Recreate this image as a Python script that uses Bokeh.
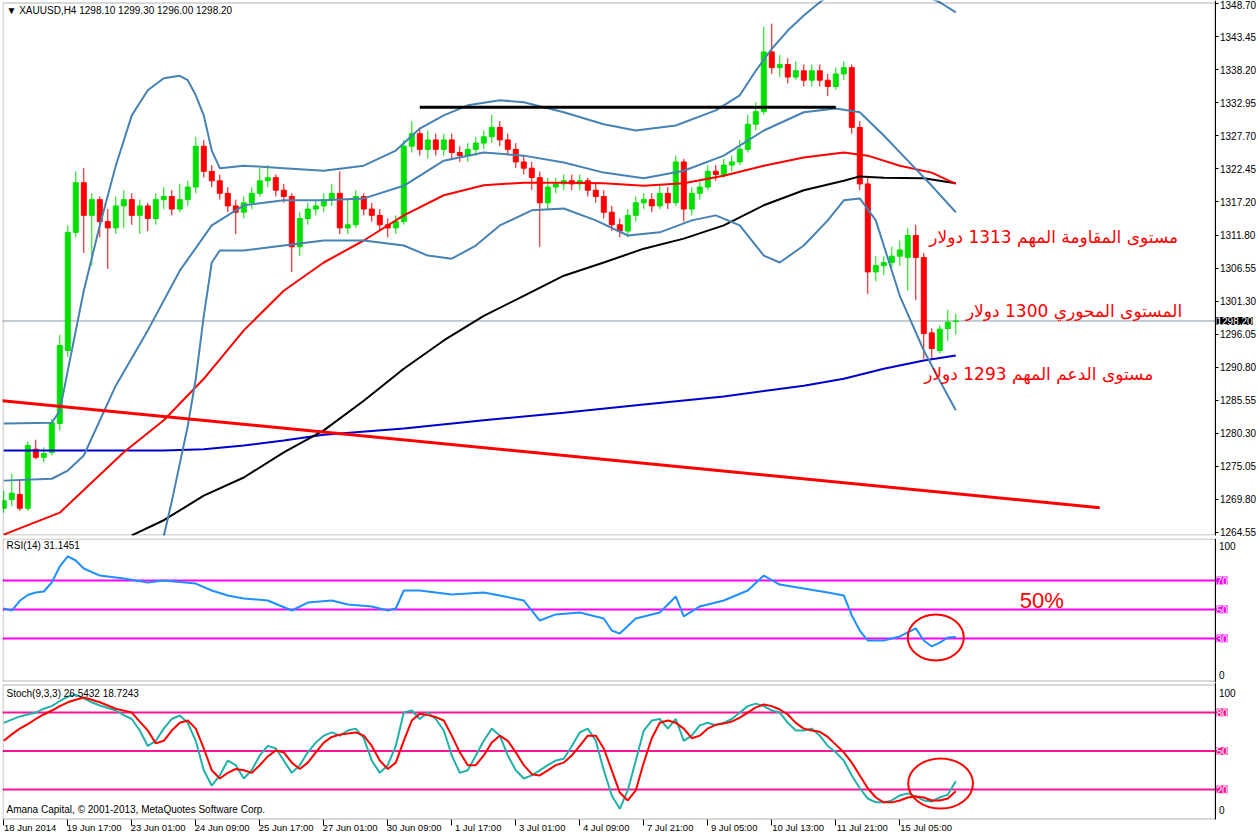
from bokeh.plotting import figure
from bokeh.layouts import column
from bokeh.models import (Range1d, FixedTicker, Label, PrintfTickFormatter, ColumnDataSource, LinearAxis,
                          BoxAnnotation)
from bokeh.embed import file_html
from bokeh.resources import INLINE

# ---------------- data ----------------
ohlc = [
    (1268.4, 1271.2, 1267.7, 1269.6), (1269.8, 1273.9, 1268.7, 1270.8), (1270.6, 1273.0, 1268.0, 1268.4),
    (1268.4, 1279.0, 1268.0, 1278.4), (1277.8, 1279.3, 1276.2, 1276.5), (1276.5, 1278.1, 1275.7, 1277.1),
    (1277.3, 1282.6, 1276.8, 1282.0), (1281.9, 1296.0, 1280.8, 1294.3), (1293.5, 1313.4, 1292.5, 1312.3),
    (1312.3, 1322.0, 1311.5, 1320.2), (1320.2, 1322.5, 1309.0, 1315.0), (1315.0, 1318.5, 1307.0, 1317.5),
    (1317.5, 1318.0, 1311.5, 1314.0), (1314.0, 1316.0, 1306.5, 1313.0), (1313.0, 1318.0, 1312.0, 1316.5),
    (1316.5, 1319.0, 1313.0, 1317.5), (1317.5, 1318.5, 1313.5, 1315.0), (1315.0, 1317.5, 1312.0, 1316.5),
    (1316.5, 1317.0, 1312.5, 1314.5), (1314.5, 1318.5, 1313.5, 1317.5), (1317.5, 1319.5, 1316.0, 1318.0),
    (1318.0, 1319.0, 1315.0, 1316.0), (1316.0, 1320.0, 1315.5, 1317.5), (1317.5, 1320.5, 1316.5, 1319.5),
    (1319.5, 1327.5, 1318.5, 1326.0), (1326.0, 1327.0, 1321.0, 1322.0), (1322.0, 1323.0, 1319.5, 1320.5),
    (1320.5, 1321.5, 1317.5, 1318.5), (1318.5, 1319.5, 1315.5, 1316.5), (1316.5, 1317.5, 1312.0, 1315.5),
    (1315.5, 1318.0, 1314.5, 1317.0), (1317.0, 1319.5, 1316.0, 1318.5), (1318.5, 1322.5, 1318.0, 1320.5),
    (1320.5, 1323.0, 1319.5, 1321.0), (1321.0, 1321.5, 1318.0, 1319.0), (1319.0, 1320.0, 1317.0, 1318.0),
    (1318.0, 1318.5, 1306.0, 1310.0), (1310.0, 1315.5, 1308.5, 1314.5), (1314.5, 1317.0, 1313.5, 1316.0),
    (1316.0, 1317.5, 1315.0, 1316.5), (1316.5, 1318.5, 1315.5, 1317.5), (1317.5, 1320.0, 1316.5, 1318.5),
    (1318.5, 1322.0, 1312.0, 1313.0), (1313.0, 1317.5, 1312.0, 1313.5), (1313.5, 1319.0, 1313.0, 1318.0),
    (1318.0, 1318.5, 1315.0, 1316.0), (1316.0, 1317.0, 1314.0, 1315.0), (1315.0, 1316.0, 1312.5, 1313.5),
    (1313.5, 1314.5, 1311.5, 1313.0), (1313.0, 1315.0, 1312.0, 1314.0), (1314.0, 1327.0, 1313.5, 1326.0),
    (1326.0, 1330.0, 1325.0, 1328.0), (1328.0, 1329.0, 1324.5, 1325.5), (1325.5, 1328.5, 1324.0, 1327.0),
    (1327.0, 1328.0, 1324.5, 1325.5), (1325.5, 1328.0, 1324.5, 1327.0), (1327.0, 1328.0, 1324.0, 1325.0),
    (1325.0, 1326.0, 1323.5, 1324.5), (1324.5, 1326.5, 1323.5, 1325.5), (1325.5, 1327.5, 1324.5, 1326.5),
    (1326.5, 1328.5, 1325.5, 1327.5), (1327.5, 1331.0, 1326.5, 1329.0), (1329.0, 1330.0, 1326.0, 1327.0),
    (1327.0, 1328.0, 1324.5, 1325.5), (1325.5, 1326.5, 1322.5, 1323.5), (1323.5, 1324.5, 1321.5, 1322.5),
    (1322.5, 1323.5, 1319.0, 1321.0), (1321.0, 1322.0, 1310.0, 1317.0), (1317.0, 1321.0, 1316.0, 1319.5),
    (1319.5, 1321.0, 1318.5, 1320.0), (1320.0, 1321.5, 1319.0, 1320.5), (1320.5, 1321.5, 1319.0, 1320.0),
    (1320.0, 1321.5, 1319.0, 1320.5), (1320.5, 1321.0, 1318.0, 1319.0), (1319.0, 1320.0, 1317.0, 1318.0),
    (1318.0, 1319.0, 1314.5, 1315.5), (1315.5, 1316.5, 1312.5, 1313.5), (1313.5, 1314.5, 1311.5, 1312.5),
    (1312.5, 1316.0, 1311.5, 1315.0), (1315.0, 1318.0, 1314.0, 1317.0), (1317.0, 1318.5, 1316.0, 1317.5),
    (1317.5, 1318.5, 1315.5, 1316.5), (1316.5, 1320.0, 1316.0, 1318.5), (1318.5, 1319.5, 1316.0, 1317.0),
    (1317.0, 1324.5, 1316.5, 1323.5), (1323.5, 1324.0, 1314.0, 1316.0), (1316.0, 1319.5, 1315.0, 1318.5),
    (1318.5, 1320.5, 1317.5, 1319.5), (1319.5, 1323.0, 1319.0, 1322.0), (1322.0, 1323.0, 1320.5, 1321.5),
    (1321.5, 1324.0, 1321.0, 1323.0), (1323.0, 1324.5, 1322.0, 1323.5), (1323.5, 1327.0, 1323.0, 1325.5),
    (1325.5, 1331.0, 1325.0, 1329.5), (1329.5, 1333.0, 1328.5, 1331.5), (1331.5, 1345.0, 1331.0, 1341.0),
    (1341.0, 1345.5, 1337.5, 1338.5), (1338.5, 1340.5, 1337.0, 1339.0), (1339.0, 1340.0, 1336.0, 1337.0),
    (1337.0, 1339.5, 1336.5, 1338.0), (1338.0, 1339.0, 1335.5, 1336.5), (1336.5, 1339.0, 1335.5, 1338.0),
    (1338.0, 1339.0, 1335.5, 1336.5), (1336.5, 1337.5, 1334.0, 1335.5), (1335.5, 1338.5, 1335.0, 1337.5),
    (1337.5, 1339.5, 1336.5, 1338.5), (1338.5, 1339.0, 1328.0, 1329.0), (1329.0, 1330.0, 1319.0, 1320.0),
    (1320.0, 1321.0, 1302.5, 1306.0), (1306.0, 1308.5, 1304.5, 1307.0), (1307.0, 1308.5, 1305.5, 1307.5),
    (1307.5, 1310.0, 1306.5, 1308.5), (1308.5, 1311.0, 1307.0, 1309.5), (1308.3, 1313.0, 1303.0, 1311.8),
    (1311.8, 1313.5, 1301.5, 1308.3), (1308.3, 1309.0, 1292.2, 1296.2), (1296.3, 1297.0, 1292.2, 1293.8),
    (1293.5, 1297.5, 1293.0, 1296.9), (1297.0, 1300.0, 1295.0, 1298.0), (1298.1, 1299.3, 1296.0, 1298.2),
]

# Bollinger bands (bar index, price)
bb_up_x = [0, 6, 7, 8, 10, 12, 14, 16, 18, 20, 22, 23, 24, 25, 26, 27, 30, 35, 40, 45, 49, 52, 55, 58, 62, 65, 70,
           75, 79, 84, 89, 92, 94, 96, 98, 100, 102, 104, 110, 115, 117, 119]
bb_up_y = [1281.9, 1282.0, 1283.9, 1290.3, 1303.0, 1313.4, 1322.9, 1330.9, 1334.9, 1336.8, 1337.2, 1336.5, 1334.1,
           1330.9, 1325.3, 1322.5, 1322.9, 1322.5, 1322.1, 1322.9, 1325.3, 1328.8, 1330.9, 1332.5, 1333.3, 1333.0,
           1331.4, 1329.5, 1328.5, 1329.3, 1331.7, 1334.1, 1338.0, 1341.5, 1344.4, 1346.8, 1348.9, 1350.8, 1355.5,
           1350.0, 1348.9, 1347.3]
bb_mid_x = [0, 6, 8, 10, 14, 18, 22, 26, 30, 35, 40, 45, 50, 55, 60, 65, 70, 75, 80, 85, 90, 95, 100, 104, 107,
            110, 113, 116, 119]
bb_mid_y = [1272.8, 1273.1, 1274.4, 1276.8, 1287.9, 1296.7, 1306.2, 1313.4, 1316.6, 1317.4, 1317.4, 1317.7, 1319.7,
            1323.7, 1325.0, 1324.5, 1323.4, 1321.8, 1320.9, 1322.1, 1324.5, 1328.5, 1331.4, 1332.0, 1331.4, 1327.7,
            1323.7, 1319.7, 1315.5]
bb_low_x = [19, 20, 21, 22, 23, 24, 25, 26, 27, 30, 35, 40, 45, 50, 53, 56, 59, 62, 66, 70, 74, 78, 82, 86, 89, 92,
            95, 97, 100, 103, 105, 107, 109, 112, 115, 117, 119]
bb_low_y = [1261.5, 1264.0, 1269.5, 1275.5, 1281.5, 1289.0, 1299.0, 1307.5, 1309.4, 1309.4, 1310.2, 1311.0, 1311.0,
            1310.2, 1308.6, 1308.1, 1310.2, 1313.4, 1315.8, 1316.1, 1314.2, 1311.8, 1312.3, 1314.2, 1315.0, 1313.4,
            1308.6, 1307.5, 1310.2, 1314.2, 1317.4, 1317.7, 1314.2, 1302.2, 1293.5, 1288.7, 1284.0]

# moving averages (bar index, price)
ma_red_x = [0, 7, 15, 20, 25, 30, 35, 40, 45, 50, 55, 60, 65, 70, 75, 80, 85, 90, 95, 100, 105, 108, 112, 116, 119]
ma_red_y = [1264.2, 1267.7, 1277.3, 1282.4, 1289.0, 1296.7, 1303.0, 1307.5, 1311.0, 1315.0, 1318.2, 1319.8, 1320.2,
            1320.2, 1320.1, 1319.7, 1320.1, 1321.3, 1322.9, 1324.2, 1325.0, 1324.5, 1322.9, 1321.8, 1320.0]
ma_black_x = [16, 20, 25, 30, 35, 40, 45, 50, 55, 60, 65, 70, 75, 80, 85, 90, 95, 100, 105, 107, 110, 115, 119]
ma_black_y = [1264.1, 1266.5, 1270.4, 1273.3, 1277.3, 1280.8, 1285.5, 1290.6, 1295.1, 1299.0, 1302.2, 1305.4, 1307.5,
              1309.7, 1311.3, 1313.4, 1316.6, 1319.0, 1320.5, 1321.2, 1321.0, 1320.9, 1320.1]
ma_blue_x = [0, 20, 25, 30, 35, 40, 50, 60, 70, 80, 90, 100, 105, 110, 115, 119]
ma_blue_y = [1277.6, 1277.6, 1277.8, 1278.4, 1279.2, 1280.1, 1281.1, 1282.4, 1283.6, 1284.9, 1286.2, 1287.9, 1289.0,
             1290.6, 1291.9, 1292.7]

# drawn objects
trend_x = [-0.2, 137.0]
trend_y = [1285.5, 1268.5]
resist_x = [52.0, 104.0]
resist_y = [1332.2, 1332.2]
last_price = 1298.20

# RSI(14)
rsi_x = [0, 1, 2, 3, 4, 5, 6, 7, 8, 9, 10, 12, 15, 18, 20, 24, 26, 28, 30, 33, 36, 38, 41, 43, 46, 48, 49, 50, 52,
         56, 60, 62, 65, 67, 69, 72, 75, 76, 77, 79, 82, 84, 85, 87, 90, 93, 95, 97, 100, 103, 105, 106, 107, 108,
         110, 112, 114, 115, 116, 117, 118, 119]
rsi_v = [50.7, 49.3, 56.0, 60.0, 61.7, 62.4, 68.6, 79.7, 86.6, 83.8, 78.3, 73.4, 71.4, 68.6, 70.0, 67.9, 63.1, 59.7,
         57.6, 56.2, 49.3, 54.8, 56.2, 53.4, 52.1, 49.3, 50.7, 63.1, 63.1, 60.3, 61.7, 59.7, 56.2, 42.4, 46.6, 47.9,
         43.8, 35.5, 33.4, 43.8, 47.9, 59.0, 45.2, 52.1, 56.2, 63.1, 73.4, 67.2, 64.5, 61.7, 59.7, 45.9, 35.5, 28.6,
         28.6, 31.4, 37.0, 28.6, 24.5, 27.2, 30.7, 31.1]

# Stochastic(9,3,3)
stoch_k = [72, 74.5, 77, 78.5, 80, 83, 85, 89, 92.5, 94, 91, 88, 85.5, 83.5, 81.6, 78, 75, 66, 54, 58, 67.5, 75, 77.7,
           72, 58, 35, 23, 31, 42.6, 39, 28.6, 35, 46.6, 54, 52, 42.6, 33, 39, 49, 56.6, 62, 64.5, 62, 66, 67.5, 60,
           42.6, 33, 39, 54, 80, 81.6, 75, 80, 75, 66, 46.6, 33, 35, 46.6, 58, 67.5, 62, 46.6, 35, 28.6, 31, 35, 39,
           42.6, 44, 54, 64.5, 67.5, 58, 35, 15.4, 5, 19.3, 42.6, 66, 73.8, 75, 67.5, 75, 58, 62, 70, 72, 70, 72, 75,
           80, 85, 87, 85, 81.6, 80, 72, 66, 66, 67.5, 62, 54, 49, 42.6, 31, 21, 13, 10, 10, 11.5, 15.4, 17, 14.6,
           11.5, 10.7, 13.8, 16, 26.5]
stoch_d = [58, 63, 67.5, 71, 75, 78.5, 81.6, 85, 88, 90, 91.7, 90, 88, 85.5, 83, 81.5, 80, 73, 66, 56, 58, 66, 72,
           73.8, 67.5, 52, 35, 28.6, 33, 36, 35, 33, 39, 45.8, 50.5, 49, 41, 36, 41, 49, 56.6, 61, 62.8, 63.6, 64.5,
           62, 54, 42.6, 36, 41, 58, 73.8, 79, 78, 76.5, 73.8, 62, 49, 39, 39, 46.6, 56.6, 62, 58, 49, 39, 32, 31, 35,
           39, 41, 46.6, 54, 62, 62, 52, 35, 17.7, 11.5, 19.3, 41, 60, 72, 73.8, 72, 67.5, 60, 62, 67.5, 70.6, 71.4,
           73, 76, 80, 84, 86.3, 85, 82.4, 78.5, 72, 67.5, 66, 65, 61, 55, 49, 41, 31, 21, 13.8, 10, 10, 11.5, 13.8,
           14.6, 13.8, 11.5, 11.5, 13, 18.7]

price_ticks = [1348.70, 1343.45, 1338.20, 1332.95, 1327.70, 1322.45, 1317.20, 1311.80, 1306.55, 1301.30,
               1296.05, 1290.80, 1285.55, 1280.30, 1275.05, 1269.80, 1264.55]
rsi_levels = [70, 50, 30]
stoch_levels = [80, 50, 20]
time_ticks = [0, 8, 16, 24, 32, 40, 48, 56, 64, 72, 80, 88, 96, 104, 112]
time_labels = ["18 Jun 2014", "19 Jun 17:00", "23 Jun 01:00", "24 Jun 09:00", "25 Jun 17:00", "27 Jun 01:00",
               "30 Jun 09:00", "1 Jul 17:00", "3 Jul 01:00", "4 Jul 09:00", "7 Jul 21:00", "9 Jul 05:00",
               "10 Jul 13:00", "11 Jul 21:00", "15 Jul 05:00"]

# ---------------- layout ----------------
W = 1258
LB = 2                               # frame starts at page x = 2
PXB = 8.0                            # pixels per bar
X0 = -0.16                           # bar 0 sits 1.3 px right of the frame edge
X1 = X0 + (W - LB) / PXB
XB = X0 + (1214.5 - LB) / PXB        # price-axis line (right border of the chart area)
xr = Range1d(X0, X1)

FONT = "Liberation Sans"
FS = "10px"
GREEN = "#00E000"
RED = "#FF0000"
STEEL = "#4682B4"
RSI_LVL = "#FF00FF"
STO_LVL = "#FF1493"

MAIN_TOP, MAIN_BOT = 0, 538
MAIN_PPU = 6.286
MAIN_HI = 1349.18
MAIN_LO = MAIN_HI - (MAIN_BOT - MAIN_TOP) / MAIN_PPU

RSI_TOP, RSI_BOT = 538, 682
RSI_PPU = 1.45
RSI_HI = (681.5 - RSI_TOP) / RSI_PPU
RSI_LO = (681.5 - RSI_BOT) / RSI_PPU

STO_TOP, STO_BOT = 682, 835
STO_PPU = 1.283
STO_HI = (814.7 - STO_TOP) / STO_PPU
STO_LO = (814.7 - STO_BOT) / STO_PPU


def val_at(page_y, top, hi, ppu):
    return hi - (page_y - top) / ppu


def make_fig(top, bot, lo, hi):
    p = figure(width=W, height=bot - top, x_range=xr, y_range=Range1d(lo, hi),
               output_backend="svg", toolbar_location=None, x_axis_location=None, y_axis_location=None,
               min_border_left=LB, min_border_right=0, min_border_top=0, min_border_bottom=0)
    p.outline_line_color = None
    p.grid.visible = False
    p.background_fill_color = "white"
    p.border_fill_color = "white"
    return p


def price_axis(p, ticks, bounds, fmt=None):
    ax = LinearAxis(fixed_location=XB, ticker=FixedTicker(ticks=ticks), bounds=bounds)
    if fmt is not None:
        ax.formatter = PrintfTickFormatter(format=fmt)
    ax.axis_line_color = "black"
    ax.axis_line_width = 1
    ax.major_tick_in = 0
    ax.major_tick_out = 3
    ax.minor_tick_in = 0
    ax.minor_tick_out = 0
    ax.major_label_text_font = FONT
    ax.major_label_text_font_size = FS
    ax.major_label_text_color = "black"
    ax.major_label_standoff = 2
    p.add_layout(ax, "right")
    return ax


def border(p, top_val, bot_val):
    p.add_layout(BoxAnnotation(left=X0 + 0.5 / PXB, right=XB, bottom=bot_val, top=top_val,
                               fill_alpha=0, line_color="black", line_width=1))


def side_label(p, y, text, bg=None, color="black", dx=1.5):
    p.add_layout(Label(x=XB, y=y, x_offset=dx, text=text, text_font=FONT, text_font_size=FS, text_color=color,
                       background_fill_color=bg, text_baseline="middle", text_align="left"))


# ---- main price panel ----
pm = make_fig(MAIN_TOP, MAIN_BOT, MAIN_LO, MAIN_HI)
m_top = val_at(2.5, MAIN_TOP, MAIN_HI, MAIN_PPU)
m_bot = val_at(534.5, MAIN_TOP, MAIN_HI, MAIN_PPU)
price_axis(pm, price_ticks, (m_bot, MAIN_HI), "%.2f")
border(pm, m_top, m_bot)

pm.segment(x0=[X0], x1=[XB], y0=[last_price], y1=[last_price], line_color="#8A99A8", line_width=1)

opens = [b[0] for b in ohlc]
highs = [b[1] for b in ohlc]
lows = [b[2] for b in ohlc]
closes = [b[3] for b in ohlc]
src = ColumnDataSource(dict(
    x=list(range(len(ohlc))), h=highs, l=lows,
    top=[max(o, c) for o, c in zip(opens, closes)],
    bot=[min(o, c) for o, c in zip(opens, closes)],
    col=[GREEN if c >= o else RED for o, c in zip(opens, closes)],
))
pm.segment(x0="x", y0="h", x1="x", y1="l", line_color="col", line_width=1, source=src)
pm.vbar(x="x", top="top", bottom="bot", width=0.62, fill_color="col", line_color="col", line_width=1, source=src)

pm.line(ma_blue_x, ma_blue_y, line_color="#0000CD", line_width=2)
pm.line(ma_black_x, ma_black_y, line_color="black", line_width=2)
pm.line(ma_red_x, ma_red_y, line_color="red", line_width=2)
for bx, by in ((bb_up_x, bb_up_y), (bb_mid_x, bb_mid_y), (bb_low_x, bb_low_y)):
    pm.line(bx, by, line_color=STEEL, line_width=2)
pm.line(trend_x, trend_y, line_color="red", line_width=3)
pm.line(resist_x, resist_y, line_color="black", line_width=3)

# white strip below the chart border (gap between the panels)
pm.add_layout(BoxAnnotation(bottom=MAIN_LO, top=m_bot - 0.5 / MAIN_PPU, right=XB - 0.1 / PXB,
                            fill_color="white", fill_alpha=1.0, line_color=None))

pm.add_layout(Label(x=0.34, y=val_at(10, MAIN_TOP, MAIN_HI, MAIN_PPU),
                    text="\u25BC XAUUSD,H4  1298.10 1299.30 1296.00 1298.20",
                    text_font=FONT, text_font_size=FS, text_color="black", text_baseline="middle"))
side_label(pm, last_price, "1298.20", bg="black", color="white")

AR = "DejaVu Sans"
AR_FS = "17px"
pm.add_layout(Label(x=146.8, y=1311.48, text="مستوى المقاومة المهم 1313 دولار", text_font=AR,
                    text_font_size=AR_FS, text_color="red", text_align="right", text_baseline="middle"))
pm.add_layout(Label(x=147.3, y=1299.86, text="المستوى المحوري 1300 دولار", text_font=AR,
                    text_font_size=AR_FS, text_color="red", text_align="right", text_baseline="middle"))
pm.add_layout(Label(x=143.7, y=1289.84, text="مستوى الدعم المهم 1293 دولار", text_font=AR,
                    text_font_size=AR_FS, text_color="red", text_align="right", text_baseline="middle"))

# ---- RSI panel ----
pr = make_fig(RSI_TOP, RSI_BOT, RSI_LO, RSI_HI)
price_axis(pr, [], (RSI_LO, RSI_HI))
border(pr, val_at(538.5, RSI_TOP, RSI_HI, RSI_PPU), val_at(680.5, RSI_TOP, RSI_HI, RSI_PPU))
pr.segment(x0=[X0] * 3, x1=[XB + 0.25] * 3, y0=rsi_levels, y1=rsi_levels, line_color=RSI_LVL, line_width=2)
for lv in rsi_levels:
    side_label(pr, lv, str(lv), bg=RSI_LVL, color="white")
side_label(pr, 94.1, "100", dx=4)
side_label(pr, 4.5, "0", dx=4)
pr.line(rsi_x, rsi_v, line_color="#1E90FF", line_width=2)
pr.add_layout(Label(x=0.34, y=94.1, text="RSI(14) 31.1451", text_font=FONT, text_font_size=FS,
                    text_color="black", text_baseline="middle"))
pr.add_layout(Label(x=129.75, y=56.2, text="50%", text_font="Liberation Sans", text_font_size="22px",
                    text_color="red", text_align="center", text_baseline="middle"))
pr.ellipse(x=[116.5], y=[30.7], width=7.0, height=31.7, fill_color=None, line_color="red", line_width=2)

# ---- Stochastic panel (its frame also holds the time labels) ----
ps = make_fig(STO_TOP, STO_BOT, STO_LO, STO_HI)
s_top = val_at(684.5, STO_TOP, STO_HI, STO_PPU)
s_bot = val_at(818.5, STO_TOP, STO_HI, STO_PPU)
price_axis(ps, [], (s_bot, STO_HI))
border(ps, s_top, s_bot)
ps.segment(x0=[X0] * 3, x1=[XB + 0.25] * 3, y0=stoch_levels, y1=stoch_levels, line_color=STO_LVL, line_width=2)
for lv in stoch_levels:
    side_label(ps, lv, str(lv), bg=STO_LVL, color="white")
side_label(ps, 95.6, "100", dx=4)
side_label(ps, 3.7, "0", dx=4)
xi = list(range(len(stoch_k)))
ps.line(xi, stoch_k, line_color="#20B2AA", line_width=2)
ps.line(xi, stoch_d, line_color="red", line_width=2)
ps.add_layout(Label(x=0.34, y=94.9, text="Stoch(9,3,3) 26.5432 18.7243", text_font=FONT,
                    text_font_size=FS, text_color="black", text_baseline="middle"))
ps.add_layout(Label(x=0.34, y=4.4, text="Amana Capital, \u00a9 2001-2013, MetaQuotes Software Corp.",
                    text_font=FONT, text_font_size=FS, text_color="black", text_baseline="middle"))
ps.ellipse(x=[117.1], y=[24.7], width=8.1, height=39.0, fill_color=None, line_color="red", line_width=2)

# time axis: tick marks at the bars, labels set just to the right of each mark
tick_ax = LinearAxis(fixed_location=s_bot, ticker=FixedTicker(ticks=time_ticks),
                     major_label_overrides={t: "" for t in time_ticks})
tick_ax.axis_line_color = None
tick_ax.major_tick_in = 0
tick_ax.major_tick_out = 6
tick_ax.minor_tick_in = 0
tick_ax.minor_tick_out = 0
tick_ax.major_tick_line_color = "black"
ps.add_layout(tick_ax, "below")

LABEL_SHIFT = 3.3
lab_ticks = [t + LABEL_SHIFT for t in time_ticks]
lab_ax = LinearAxis(fixed_location=s_bot, ticker=FixedTicker(ticks=lab_ticks),
                    major_label_overrides={t: s for t, s in zip(lab_ticks, time_labels)})
lab_ax.axis_line_color = None
lab_ax.major_tick_in = 0
lab_ax.major_tick_out = 0
lab_ax.minor_tick_in = 0
lab_ax.minor_tick_out = 0
lab_ax.major_label_standoff = 3
lab_ax.major_label_text_font = FONT
lab_ax.major_label_text_font_size = "9.5px"
lab_ax.major_label_text_color = "black"
ps.add_layout(lab_ax, "below")

layout = column(pm, pr, ps)
open("out.html", "w").write(file_html(layout, INLINE))
